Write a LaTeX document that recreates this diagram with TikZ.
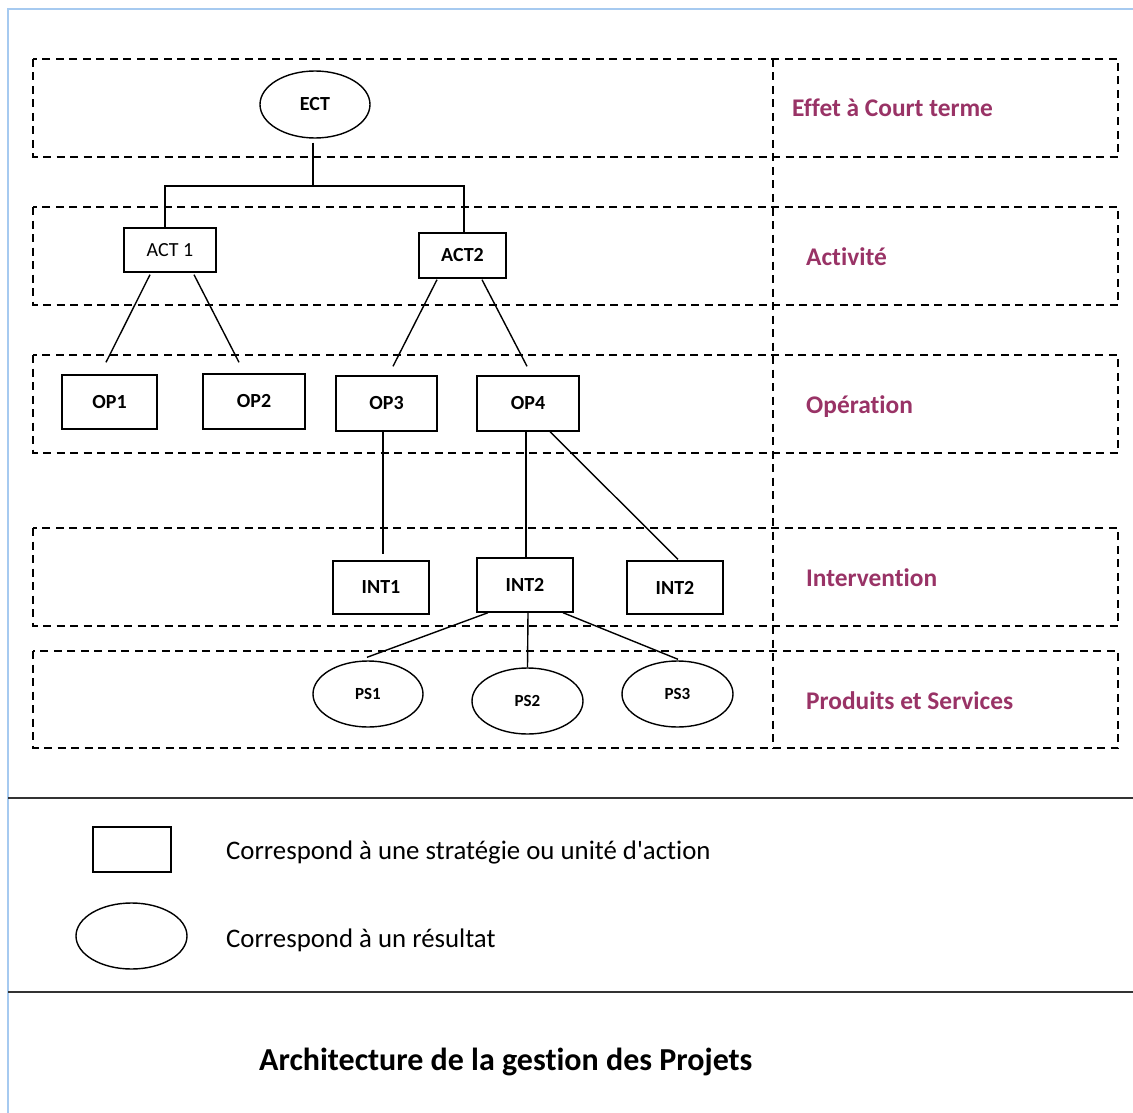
\documentclass[tikz,border=0pt]{standalone}
\usepackage{fontspec}
\setmainfont{Carlito}[Ligatures={TeX,NoCommon}]
\usetikzlibrary{calc,shapes.geometric}
\definecolor{frameblue}{HTML}{A6CAF0}
\definecolor{levelpurple}{HTML}{993366}
\begin{document}
\begin{tikzpicture}[x=1pt,y=-1pt,
  unitbox/.style={draw, line width=1.4pt, inner sep=0pt,
    font=\bfseries\fontsize{20}{24}\selectfont},
  oval/.style={ellipse, draw, line width=1.4pt, inner sep=0pt,
    font=\bfseries\fontsize{20}{24}\selectfont},
  level/.style={draw, dash pattern=on 8pt off 5.5pt, line width=1.6pt},
  tag/.style={anchor=base west, text=levelpurple, inner sep=0pt,
    font=\bfseries\fontsize{25.4}{30}\selectfont},
  link/.style={line width=1.4pt},
  legendtext/.style={anchor=base west, inner sep=0pt,
    font=\fontsize{26.8}{32}\selectfont}]

% page size
\useasboundingbox (0,0) rectangle (1133,1113);

% outer frame
\draw[frameblue, line width=2pt] (8,1113) -- (8,9) -- (1133,9);

% hierarchy levels
\draw[level] (33,59) rectangle (1118,157);
\draw[level] (33,207) rectangle (1118,305);
\draw[level] (33,355) rectangle (1118,453);
\draw[level] (33,528) rectangle (1118,626);
\draw[level] (33,651) rectangle (1118,748);
\draw[level] (773,59) -- (773,748);

% level names
\node[tag] (tagect) at (792,117) {Effet à Court terme};
\node[tag] (tagact) at (806,265) {Activité};
\node[tag] (tagop)  at (806,413) {Opération};
\node[tag] (tagint) at (806,586) {Intervention};
\node[tag] (tagps)  at (806,709) {Produits et Services};

% nodes
\node[oval, minimum width=110pt, minimum height=67pt] (ect) at (315,104.5) {ECT};

\node[unitbox, minimum width=92pt, minimum height=44pt,
  font=\fontsize{20}{24}\selectfont] (act1) at (170,250) {ACT 1};
\node[unitbox, minimum width=87pt, minimum height=45pt] (act2) at (462.5,255.5) {ACT2};

\node[unitbox, minimum width=95pt, minimum height=54pt] (op1) at (109.5,402) {OP1};
\node[unitbox, minimum width=102pt, minimum height=55pt] (op2) at (254,401.5) {OP2};
\node[unitbox, minimum width=101pt, minimum height=55pt] (op3) at (386.5,403.5) {OP3};
\node[unitbox, minimum width=102pt, minimum height=55pt] (op4) at (528,403.5) {OP4};

\node[unitbox, minimum width=96pt, minimum height=53pt] (int1) at (381,587.5) {INT1};
\node[unitbox, minimum width=96pt, minimum height=54pt] (int2a) at (525,585) {INT2};
\node[unitbox, minimum width=96pt, minimum height=53pt] (int2b) at (675,587.5) {INT2};

\node[oval, minimum width=110pt, minimum height=66pt,
  font=\bfseries\fontsize{17}{20}\selectfont] (ps1) at (368,694) {PS1};
\node[oval, minimum width=111pt, minimum height=66pt,
  font=\bfseries\fontsize{17}{20}\selectfont] (ps2) at (527.5,701) {PS2};
\node[oval, minimum width=111pt, minimum height=66pt,
  font=\bfseries\fontsize{17}{20}\selectfont] (ps3) at (677.5,694) {PS3};

% connectors
\coordinate (busL) at (165,186);
\coordinate (busR) at (464,186);
\draw[link] ($(ect.south)+(-2,4)$) -- ($(ect.south |- busL)+(-2,0)$);
\draw[link] (act1.north -| busL) -- (busL) -- (busR) -- (act2.north -| busR);

\draw[link] ($(act1.south)+(-20,2)$) -- ($(op1.north)+(-3.5,-12)$);
\draw[link] ($(act1.south)+(24,2)$) -- ($(op2.north)+(-15,-11)$);
\draw[link] ($(act2.south)+(-25.5,1)$) -- ($(op3.north)+(6.5,-9)$);
\draw[link] ($(act2.south)+(19.5,1)$) -- ($(op4.north)+(-1,-9)$);

\draw[link] ($(op3.south)+(-3.5,0)$) -- ($(int1.north)+(2,-6)$);
\draw[link] ($(op4.south)+(-2,0)$) -- ($(int2a.north)+(1,0)$);
\draw[link] ($(op4.south)+(22,0)$) -- ($(int2b.north)+(3,-1)$);

\draw[link] ($(int2a.south)+(-37,0)$) -- ($(ps1.north)+(-1,-3)$);
\draw[link] ($(int2a.south)+(3,0)$) -- (ps2.north);
\draw[link] ($(int2a.south)+(38,0)$) -- ($(ps3.north)+(0.5,-1)$);

% legend
\draw[black!80, line width=2pt] (8,798) -- (1133,798);
\draw[black!80, line width=2pt] (8,992) -- (1133,992);

\node[draw, line width=1.4pt, minimum width=78pt, minimum height=45pt, inner sep=0pt]
  (keybox) at (132,849.5) {};
\node[legendtext] (keyboxtext) at (226,859) {Correspond à une stratégie ou unité d\textquotesingle action};
\node[ellipse, draw, line width=1.4pt, minimum width=111pt, minimum height=66pt, inner sep=0pt]
  (keyoval) at (131.5,936) {};
\node[legendtext] (keyovaltext) at (226,947) {Correspond à un résultat};

% caption
\node[anchor=base west, inner sep=0pt, font=\bfseries\fontsize{32}{38}\selectfont]
  (caption) at (259,1070) {Architecture de la gestion des Projets};
\end{tikzpicture}
\end{document}
